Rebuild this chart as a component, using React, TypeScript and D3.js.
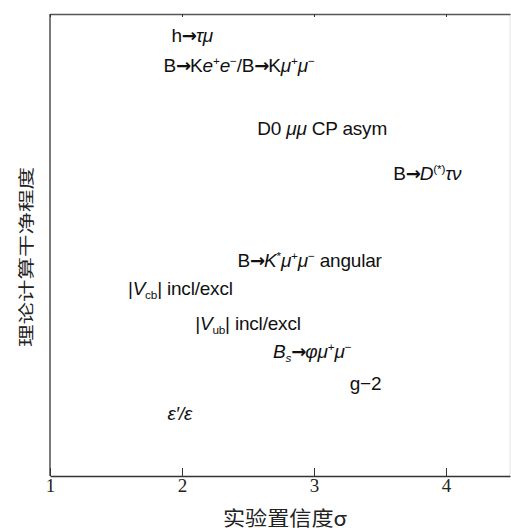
import React, { useEffect, useRef } from "react";
import * as d3 from "d3";

// x: experimental significance (sigma), y: theoretical cleanliness (arbitrary units)
const xTicks = [1, 2, 3, 4];
const xLabel = "实验置信度σ";
const yLabel = "理论计算干净程度";

const names = [
  "h→τμ",
  "B→Ke+e−/B→Kμ+μ−",
  "D0 μμ CP asym",
  "B→D(*)τν",
  "B→K*μ+μ− angular",
  "|Vcb| incl/excl",
  "|Vub| incl/excl",
  "Bs→φμ+μ−",
  "g−2",
  "ε′/ε"
];
const sigma = [1.92, 1.86, 2.57, 3.6, 2.42, 1.59, 2.1, 2.69, 3.27, 1.89];
const clean = [9.39, 8.74, 7.38, 6.41, 4.52, 3.92, 3.16, 2.55, 1.86, 1.21];

// rich text pieces: [text, kind] n normal, i italic, a arrow, p superscript, b subscript
const parts = {
  "h→τμ": [["h", "n"], ["→", "a"], ["τμ", "i"]],
  "B→Ke+e−/B→Kμ+μ−": [["B", "n"], ["→", "a"], ["K", "n"], ["e", "i"], ["+", "p"], ["e", "i"], ["−", "p"], ["/B", "n"], ["→", "a"], ["K", "n"], ["μ", "i"], ["+", "p"], ["μ", "i"], ["−", "p"]],
  "D0 μμ CP asym": [["D0 ", "n"], ["μμ", "i"], [" CP asym", "n"]],
  "B→D(*)τν": [["B", "n"], ["→", "a"], ["D", "i"], ["(*)", "p"], ["τν", "i"]],
  "B→K*μ+μ− angular": [["B", "n"], ["→", "a"], ["K", "i"], ["*", "p"], ["μ", "i"], ["+", "p"], ["μ", "i"], ["−", "p"], [" angular", "n"]],
  "|Vcb| incl/excl": [["|", "n"], ["V", "i"], ["cb", "b"], ["| incl/excl", "n"]],
  "|Vub| incl/excl": [["|", "n"], ["V", "i"], ["ub", "b"], ["| incl/excl", "n"]],
  "Bs→φμ+μ−": [["B", "i"], ["s", "bi"], ["→", "a"], ["φμ", "i"], ["+", "p"], ["μ", "i"], ["−", "p"]],
  "g−2": [["g−2", "n"]],
  "ε′/ε": [["ε′/ε", "i"]]
};

export default function App() {
  const ref = useRef(null);

  useEffect(() => {
    const el = ref.current;
    if (!el) return;
    const width = 511,
      height = 528;
    const margin = { top: 14, left: 50, bottom: 476, right: 510 };

    const x = d3.scaleLinear().domain([1, 4.485]).range([margin.left, margin.right]);
    const y = d3.scaleLinear().domain([0, 10]).range([margin.bottom, margin.top]);

    const svg = d3
      .select(el)
      .append("svg")
      .attr("width", width)
      .attr("height", height)
      .style("position", "absolute")
      .style("left", 0)
      .style("top", 0)
      .style("background", "#fff");

    // frame
    svg.append("line").attr("x1", x(1)).attr("x2", x(1)).attr("y1", y(10)).attr("y2", y(0))
      .attr("stroke", "#333").attr("stroke-width", 1.3);
    svg.append("line").attr("x1", x(4.485)).attr("x2", x(4.485)).attr("y1", y(10)).attr("y2", y(0))
      .attr("stroke", "#e4e4e4").attr("stroke-width", 1);

    const bottom = svg
      .append("g")
      .attr("transform", "translate(0," + margin.bottom + ")")
      .call(d3.axisBottom(x).tickValues(xTicks).tickSizeInner(-8).tickSizeOuter(0).tickPadding(2).tickFormat(d3.format("d")));
    bottom.select(".domain").attr("stroke", "#333").attr("stroke-width", 1.3);
    bottom.selectAll(".tick line").attr("stroke", "#333");
    bottom.selectAll(".tick text")
      .attr("font-family", "Liberation Serif, serif")
      .attr("font-size", 19)
      .attr("fill", "#222");

    const top = svg
      .append("g")
      .attr("transform", "translate(0," + margin.top + ")")
      .call(d3.axisTop(x).tickValues(xTicks).tickSizeInner(-3).tickSizeOuter(0).tickFormat(() => ""));
    top.select(".domain").attr("stroke", "#555").attr("stroke-width", 1.6);
    top.selectAll(".tick line").attr("stroke", "#333");

    // labels
    const fs = 19;
    names.forEach((name, i) => {
      const t = svg
        .append("text")
        .attr("x", x(sigma[i]))
        .attr("y", y(clean[i]))
        .attr("font-family", "Liberation Sans, Arial, sans-serif")
        .attr("font-size", fs)
        .attr("fill", "#111")
        .attr("letter-spacing", -0.2);
      let shift = 0;
      parts[name].forEach(([s, k]) => {
        const sp = t.append("tspan").text(s);
        let dy = 0;
        if (k === "i") sp.attr("font-style", "italic");
        if (k === "a") sp.attr("font-family", "DejaVu Sans, sans-serif").attr("font-size", fs * 0.95).attr("font-weight", "bold").attr("letter-spacing", -1);
        if (k === "p") {
          sp.attr("font-size", fs * 0.62);
          dy = -7;
        }
        if (k === "b" || k === "bi") {
          sp.attr("font-size", fs * 0.62);
          dy = 4;
        }
        if (k === "bi") sp.attr("font-style", "italic");
        sp.attr("dy", dy - shift);
        shift = dy;
      });
    });

    // axis titles
    svg.append("text")
      .attr("x", 285)
      .attr("y", 526)
      .attr("text-anchor", "middle")
      .attr("font-family", "Noto Sans CJK SC, serif")
      .attr("font-size", 20)
      .attr("fill", "#222")
      .attr("textLength", 124)
      .attr("lengthAdjust", "spacingAndGlyphs")
      .text(xLabel);

    svg.append("text")
      .attr("transform", "translate(32,257) rotate(-90)")
      .attr("text-anchor", "middle")
      .attr("font-family", "Noto Sans CJK SC, serif")
      .attr("font-size", 16)
      .attr("fill", "#222")
      .attr("textLength", 180)
      .attr("lengthAdjust", "spacingAndGlyphs")
      .text(yLabel);

    return () => {
      d3.select(el).select("svg").remove();
    };
  }, []);

  return <div ref={ref} />;
}
